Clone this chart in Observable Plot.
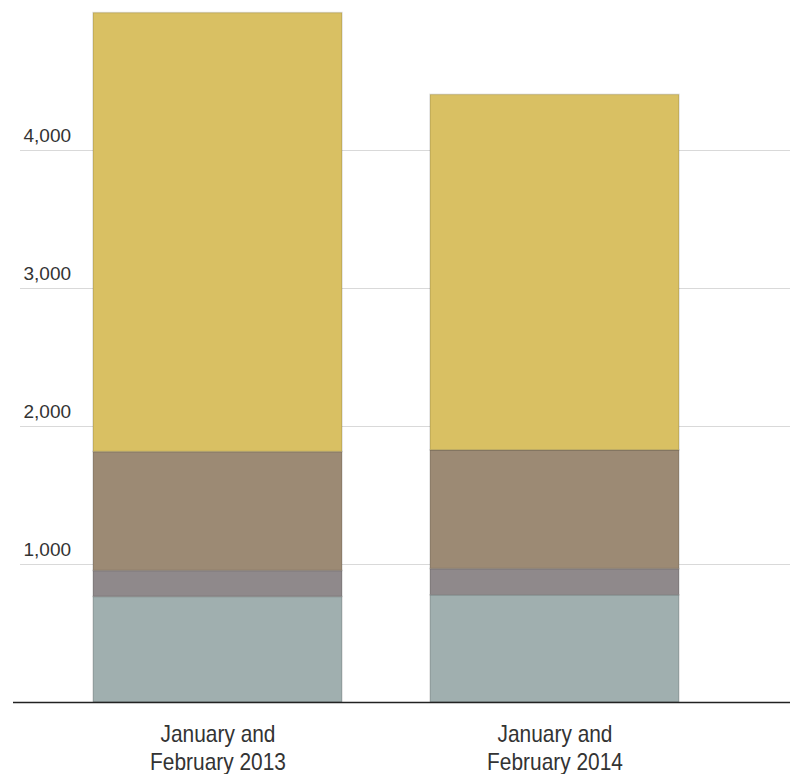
<!DOCTYPE html>
<html>
<head>
<meta charset="utf-8">
<script src="https://cdn.jsdelivr.net/npm/d3@7"></script>
<script src="https://cdn.jsdelivr.net/npm/@observablehq/plot@0.6"></script>
<style>
  html, body { margin: 0; padding: 0; background: #fff; }
  #chart { width: 790px; height: 774px; }
</style>
</head>
<body>
<div id="chart"></div>
<script>
const periods = ["January and\nFebruary 2013", "January and\nFebruary 2014"];
const seriesNames = ["Series A", "Series B", "Series C", "Series D"]; // bottom to top
const seriesA = [765, 777];
const seriesB = [188, 190];
const seriesC = [862, 860];
const seriesD = [3181, 2576];
const seriesColors = ["#a0afaf", "#8f898b", "#9c8a74", "#d9c063"];
const yTicks = [1000, 2000, 3000, 4000];

const seriesValues = [seriesA, seriesB, seriesC, seriesD];
const rows = [];
seriesNames.forEach((s, i) => {
  periods.forEach((p, j) => rows.push({ period: p, series: s, value: seriesValues[i][j] }));
});

const chart = Plot.plot({
  width: 790,
  height: 774,
  marginTop: 12,
  marginBottom: 72,
  marginLeft: 5,
  marginRight: 0,
  style: { fontFamily: "'Liberation Sans', Arial, Helvetica, sans-serif", fontSize: "18px", color: "#333", background: "#fff" },
  x: { domain: periods, range: [5, 768], padding: 0.26, label: null },
  y: { domain: [0, 5000], label: null },
  color: { domain: seriesNames, range: seriesColors },
  marks: [
    Plot.ruleY(yTicks, { stroke: "#d9d9d9", strokeWidth: 1.2, insetLeft: 15 }),
    Plot.text(yTicks, {
      y: d => d,
      text: d => d3.format(",")(d),
      frameAnchor: "left",
      textAnchor: "start",
      lineAnchor: "bottom",
      dx: 18,
      dy: -9,
      fontSize: 19,
      fill: "#333",
      style: "letter-spacing: 2px"
    }),
    Plot.barY(rows, Plot.stackY({
      x: "period",
      y: "value",
      fill: "series",
      order: seriesNames,
      stroke: "#000",
      strokeOpacity: 0.13,
      strokeWidth: 1.5
    })),
    Plot.ruleY([0], { stroke: "#222", strokeWidth: 1.6, insetLeft: 8 }),
    Plot.axisX({
      tickSize: 0,
      tickPadding: 20,
      fontSize: 24,
      lineHeight: 1.167,
      fill: "#333",
      label: null
    }),
    Plot.axisY({ ticks: [], label: null })
  ]
});
document.getElementById("chart").appendChild(chart);

// condense the x-axis labels horizontally (the reference uses a narrow face)
d3.select(chart).selectAll("g[aria-label='x-axis tick label'] tspan").each(function () {
  const len = this.getComputedTextLength();
  this.setAttribute("textLength", (len * 0.87).toFixed(1));
  this.setAttribute("lengthAdjust", "spacingAndGlyphs");
});
</script>
</body>
</html>
